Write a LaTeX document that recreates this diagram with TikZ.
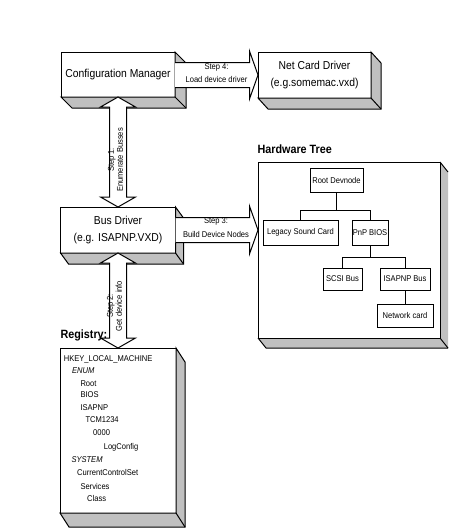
\documentclass[tikz,border=0pt]{standalone}
\usepackage{fontspec}
\setmainfont{Liberation Sans}[FakeStretch=0.9]
\usetikzlibrary{calc}
\definecolor{sidegray}{RGB}{192,192,192}
\newcommand\sidefaces[3]{%
  \draw[sideface] (#1.north east) -- ($(#1.north east)+(#2,#3)$) -- ($(#1.south east)+(#2,#3)$) -- ($(#1.south west)+(#2,#3)$) -- (#1.south west) -- (#1.south east) -- cycle;
  \draw (#1.south east) -- ($(#1.south east)+(#2,#3)$);}
\newcommand\vdarrow[2]{%
  \draw[arr] (#1) -- ($(#1)+(17.5,10)$) -- ($(#1)+(8.5,10)$) -- ($(#2)+(8.5,-10)$) -- ($(#2)+(17.5,-10)$) -- (#2) -- ($(#2)+(-17.5,-10)$) -- ($(#2)+(-8.5,-10)$) -- ($(#1)+(-8.5,10)$) -- ($(#1)+(-17.5,10)$) -- cycle;}
\newcommand\hsarrow[2]{%
  \draw[arr] ($(#1)+(0,-12.5)$) -- ($(#2)+(-8.5,-12.5)$) -- ($(#2)+(-8.5,-24)$) -- (#2) -- ($(#2)+(-8.5,24)$) -- ($(#2)+(-8.5,12.5)$) -- ($(#1)+(0,12.5)$);}
\begin{document}
\begin{tikzpicture}[x=1pt,y=-1pt,line width=1pt,
  front/.style={draw,fill=white,inner sep=0pt,outer sep=0pt,font=\fontsize{11.5}{17}\selectfont,align=center},
  sideface/.style={draw,fill=sidegray,line join=miter},
  arr/.style={draw,fill=white,line join=miter},
  lbl/.style={font=\fontsize{8.4}{13.5}\selectfont,align=center,inner sep=0pt},
  vlbl/.style={font=\fontsize{8.4}{9}\selectfont,align=center,inner sep=0pt,rotate=90},
  tbox/.style={draw,fill=white,inner sep=0pt,outer sep=0pt,font=\fontsize{8.4}{10}\selectfont},
  conn/.style={draw,line width=1pt},
  title/.style={font=\fontsize{12}{14}\selectfont\bfseries,anchor=base west,inner sep=0pt},
  regtxt/.style={font=\fontsize{8.4}{10}\selectfont,anchor=base west,inner sep=0pt}]
\useasboundingbox (0,0) rectangle (449,528);
% boxes
\node[front,minimum width=114pt,minimum height=45pt] (cm) at (118,74.5) {Configuration Manager};
\sidefaces{cm}{11}{11}
\node[front,minimum width=113pt,minimum height=46pt] (ncd) at (314.5,75) {Net Card Driver\\(e.g.somemac.vxd)};
\sidefaces{ncd}{10}{11}
\node[front,minimum width=115pt,minimum height=46pt] (bd) at (118,230) {Bus Driver\\(e.g. ISAPNP.VXD)};
\sidefaces{bd}{8}{11}
\node[front,minimum width=182pt,minimum height=176pt] (hw) at (349,250) {};
\fill[sidegray] (hw.north east) -- ++(8,10) -- ($(hw.south east)+(8,10)$) -- ($(hw.south west)+(8,10)$) -- (hw.south west) -- (hw.south east) -- cycle;
\draw (hw.north east) -- ++(8,10);
\draw (hw.south west) -- ++(8,10) -- ($(hw.south east)+(8,10)$);
\draw (hw.south east) -- ++(8,10);
\draw (hw.north east) -- (hw.south east) -- (hw.south west);
\node[front,minimum width=116pt,minimum height=165pt] (reg) at (118,430.5) {};
\sidefaces{reg}{9}{14}
% titles
\node[title] (hwt) at (257,153) {Hardware Tree};
\node[title] (regt) at (60,338) {Registry:};
% arrows
\coordinate (t4) at (ncd.west);
\coordinate (s4) at (cm.east |- ncd.west);
\hsarrow{s4}{t4}
\node[lbl] (l4) at (216.5,73) {Step 4:\\Load device driver};
\coordinate (t3) at (hw.west |- bd.east);
\coordinate (s3) at (bd.east);
\hsarrow{s3}{t3}
\node[lbl] (l3) at (216,227.5) {Step 3:\\Build Device Nodes};
\coordinate (a1) at (cm.south);
\coordinate (b1) at (bd.north -| cm.south);
\vdarrow{a1}{b1}
\node[vlbl] (l1) at (115.5,160) {Step 1:\\Enumerate Busses};
\coordinate (a2) at (bd.south);
\coordinate (b2) at (reg.north -| bd.south);
\vdarrow{a2}{b2}
\node[vlbl] (l2) at (114.5,306) {Step 2:\\Get device info};
% hardware tree
\node[tbox,minimum width=53pt,minimum height=24pt] (root) at (336.5,180) {Root Devnode};
\node[tbox,minimum width=75pt,minimum height=25pt] (legacy) at (300.5,232.5) {Legacy Sound Card};
\node[tbox,minimum width=36pt,minimum height=25pt] (pnp) at (370,232.5) {PnP BIOS};
\node[tbox,minimum width=39pt,minimum height=22pt] (scsi) at (342.5,279) {SCSI Bus};
\node[tbox,minimum width=50pt,minimum height=22pt] (isa) at (405,279) {ISAPNP Bus};
\node[tbox,minimum width=56pt,minimum height=23pt] (net) at (405,315.5) {Network card};
\coordinate (j1) at ($(root.south)+(0,18)$);
\draw[conn] (root.south) -- (j1) -| (legacy.north);
\draw[conn] (j1) -| (pnp.north);
\coordinate (j2) at ($(pnp.south)+(0,12)$);
\draw[conn] (pnp.south) -- (j2) -| (scsi.north);
\draw[conn] (j2) -| (isa.north);
\draw[conn] (isa.south) -- (net.north);
% registry text
\foreach \t/\xx/\yy [count=\i] in {HKEY\_LOCAL\_MACHINE/63.3/361, {\itshape ENUM}/71.7/373, Root/80/386, BIOS/80/397.5, ISAPNP/80/410, TCM1234/85/422.5, 0000/92.7/435, LogConfig/103.3/449, {\itshape SYSTEM}/71/462, CurrentControlSet/76.7/475.5, Services/80/489, Class/86.7/501}
  \node[regtxt] (r\i) at (\xx,\yy) {\t};
\end{tikzpicture}
\end{document}
